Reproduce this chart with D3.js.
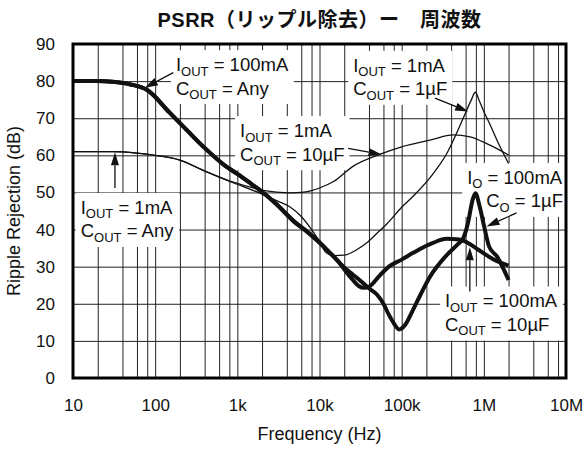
<!DOCTYPE html>
<html>
<head>
<meta charset="utf-8">
<script src="https://cdn.jsdelivr.net/npm/d3@7"></script>
<style>
  body { margin: 0; background: #fff; }
  svg { display: block; font-family: "Liberation Sans", Arial, Helvetica, sans-serif; }
</style>
</head>
<body>
<svg id="chart" width="587" height="450"></svg>
<script>
// 軸の目盛り
var xTicks = [10, 100, 1e3, 1e4, 1e5, 1e6, 1e7];
var xTickLabels = ["10", "100", "1k", "10k", "100k", "1M", "10M"];
var yTicks = [0, 10, 20, 30, 40, 50, 60, 70, 80, 90];

// IOUT = 100mA, COUT = 10uF (太線)
var f100mA10uF = [10, 20, 30, 50, 80, 150, 250, 400, 700, 1000, 1500, 2000, 3000, 5000, 7000, 10000, 13000, 16000,
  20000, 25000, 30000, 35000, 40000, 54000, 70000, 100000, 140000, 240000, 350000, 500000, 650000, 800000, 1000000, 1300000, 2000000];
var r100mA10uF = [80, 80, 79.8, 79.1, 77.6, 71.5, 66.5, 62, 57.3, 55, 52.2, 50.2, 46.8, 42, 39.5, 36.5, 34, 32,
  29.3, 26.6, 24.8, 24.3, 24.6, 27.6, 30, 31.9, 33.8, 36.4, 37.5, 37.3, 36.3, 35, 33.6, 32, 30.3];

// IO = 100mA, CO = 1uF (太線)
var f100mA1uF = [10, 20, 30, 50, 80, 150, 250, 400, 700, 1000, 1500, 2000, 3000, 5000, 7000, 10000, 13000, 16000,
  20000, 25000, 30000, 35000, 41000, 50000, 60000, 70000, 80000, 93000, 110000, 137000, 170000, 220000, 350000, 480000,
  560000, 640000, 730000, 790000, 890000, 1010000, 1160000, 1450000, 2000000];
var r100mA1uF = [80, 80, 79.8, 79.1, 77.6, 71.5, 66.5, 62, 57.3, 55, 52.2, 50.2, 46.8, 42, 39.5, 36.5, 34, 32,
  29.8, 28, 26.6, 25.3, 24, 22.5, 20, 17, 14.8, 13.1, 14.3, 18.3, 22.5, 27.2, 33, 36,
  37.6, 41.7, 48, 49.8, 46.2, 40.8, 35.4, 32.7, 26.4];

// IOUT = 1mA, COUT = 10uF (細線)
var f1mA10uF = [10, 30, 60, 100, 200, 380, 740, 1400, 2000, 3000, 4500, 6000, 8000, 10000, 15000, 25000, 55000,
  100000, 220000, 425000, 680000, 1170000, 2000000];
var r1mA10uF = [61, 61, 60.6, 60, 58.7, 56, 53.4, 51.5, 50.6, 50.1, 49.9, 50, 50.5, 51.2, 53, 56.9, 60.3,
  62.3, 64.1, 65.5, 65, 62.8, 60.1];

// IOUT = 1mA, COUT = 1uF (細線)
var f1mA1uF = [10, 30, 60, 100, 200, 380, 740, 1200, 1880, 3000, 4300, 6000, 7700, 10000, 12000, 15000, 20000, 28000,
  37000, 50000, 66000, 100000, 137000, 250000, 350000, 500000, 600000, 700000, 790000, 870000, 1000000, 1200000, 1450000, 2000000];
var r1mA1uF = [61, 61, 60.6, 60, 58.7, 56, 53.3, 51.5, 49.8, 47.8, 46.2, 43.5, 40.5, 36.8, 33.8, 33, 33.1, 34.5,
  36.3, 39, 41.5, 46, 48.9, 55.5, 60.3, 67.5, 71.5, 74.8, 77, 75, 71.8, 68.1, 64, 57.8];

// 注記 ({...} は下付き)
var noteText = [
  ["I{OUT} = 100mA", "C{OUT} = Any"],
  ["I{OUT} = 1mA", "C{OUT} = Any"],
  ["I{OUT} = 1mA", "C{OUT} = 1\u00b5F"],
  ["I{OUT} = 1mA", "C{OUT} = 10\u00b5F"],
  ["I{O} = 100mA", "C{O} = 1\u00b5F"],
  ["I{OUT} = 100mA", "C{OUT} = 10\u00b5F"]
];

var plotLeft = 73, plotRight = 566, plotTop = 44, plotBottom = 378;

var svg = d3.select("#chart");
var x = d3.scaleLog().domain([10, 1e7]).range([plotLeft, plotRight]);
var y = d3.scaleLinear().domain([0, 90]).range([plotBottom, plotTop]);

var gridG = svg.append("g");
var boxG = svg.append("g");
var curveG = svg.append("g");
var frameG = svg.append("g");
var textG = svg.append("g");
var arrowG = svg.append("g");

// グリッド (2,4,6,8 と 10 の倍数)
var gridF = [];
for (var d = 10; d < 1e7; d *= 10) {
  [2, 4, 6, 8, 10].forEach(function (m) { if (d * m < 1e7) gridF.push(d * m); });
}
gridG.append("g")
  .attr("transform", "translate(0," + plotBottom + ")")
  .call(d3.axisBottom(x).tickValues(gridF).tickSize(-(plotBottom - plotTop)).tickFormat(""))
  .call(function (g) { g.select(".domain").remove(); });
gridG.append("g")
  .attr("transform", "translate(" + plotLeft + ",0)")
  .call(d3.axisLeft(y).tickValues(yTicks.slice(1, -1)).tickSize(-(plotRight - plotLeft)).tickFormat(""))
  .call(function (g) { g.select(".domain").remove(); });
gridG.selectAll("line").attr("stroke", "#222").attr("stroke-width", 1);

// 軸ラベル
var xAxis = svg.append("g")
  .attr("transform", "translate(0," + plotBottom + ")")
  .call(d3.axisBottom(x).tickValues(xTicks).tickSize(0).tickPadding(21)
    .tickFormat(function (d, i) { return xTickLabels[i]; }));
var yAxis = svg.append("g")
  .attr("transform", "translate(" + plotLeft + ",0)")
  .call(d3.axisLeft(y).tickValues(yTicks).tickSize(0).tickPadding(18).tickFormat(d3.format("d")));
[xAxis, yAxis].forEach(function (a) {
  a.select(".domain").remove();
  a.selectAll("text").attr("font-size", 17).attr("fill", "#111")
    .attr("font-family", "'Liberation Sans', Arial, sans-serif");
});

svg.append("text")
  .attr("x", (plotLeft + plotRight) / 2).attr("y", 440)
  .attr("text-anchor", "middle").attr("font-size", 18).attr("fill", "#111")
  .text("Frequency (Hz)");
svg.append("text")
  .attr("transform", "translate(20," + (plotTop + plotBottom) / 2 + ") rotate(-90)")
  .attr("text-anchor", "middle").attr("font-size", 18).attr("fill", "#111")
  .text("Ripple Rejection (dB)");
svg.append("text")
  .attr("x", (plotLeft + plotRight) / 2).attr("y", 27)
  .attr("text-anchor", "middle").attr("font-size", 20).attr("font-weight", "bold")
  .attr("letter-spacing", 0.5).attr("fill", "#111")
  .attr("font-family", "'Liberation Sans', 'Noto Sans CJK JP', sans-serif")
  .text("PSRR（リップル除去）ー　周波数");

// 曲線
var line = d3.line()
  .x(function (d) { return x(d[0]); })
  .y(function (d) { return y(d[1]); })
  .curve(d3.curveMonotoneX);

var curves = [
  { f: f1mA10uF, r: r1mA10uF, w: 1.3 },
  { f: f1mA1uF, r: r1mA1uF, w: 1.3 },
  { f: f100mA10uF, r: r100mA10uF, w: 4 },
  { f: f100mA1uF, r: r100mA1uF, w: 4 }
];
curves.forEach(function (c) {
  curveG.append("path")
    .datum(d3.zip(c.f, c.r))
    .attr("d", line)
    .attr("fill", "none")
    .attr("stroke", "#111")
    .attr("stroke-width", c.w)
    .attr("stroke-linejoin", "round");
});

frameG.append("rect")
  .attr("x", plotLeft).attr("y", plotTop)
  .attr("width", plotRight - plotLeft).attr("height", plotBottom - plotTop)
  .attr("fill", "none").attr("stroke", "#000").attr("stroke-width", 3);

// 注記の配置 [周波数, dB]
var notes = [
  { at: [179, 82.7], dx2: 0, arrow: [[166, 82.3], [75, 78.2]] },
  { at: [12.4, 44.2], dx2: 0, arrow: [[32.4, 51.2], [32.4, 60.8]] },
  { at: [25700, 82.5], dx2: 0, arrow: [[254000, 75.4], [644000, 71.8]] },
  { at: [1080, 64.9], dx2: 0, arrow: [[22300, 61.9], [56900, 60.2]] },
  { at: [627000, 52.3], dx2: 19, arrow: [[2500000, 44.5], [1080000, 40.8]] },
  { at: [336000, 19.0], dx2: 0, arrow: [[676000, 23.3], [676000, 35.2]] }
];

function addLine(g, str, px, py) {
  var t = g.append("text").attr("x", px).attr("y", py)
    .attr("font-size", 18.5).attr("fill", "#111");
  var sub = false;
  str.split(/(\{[^}]*\})/).filter(function (s) { return s; }).forEach(function (s) {
    if (s[0] === "{") {
      t.append("tspan").attr("font-size", 13).attr("dy", 4.5).text(s.slice(1, -1));
      sub = true;
    } else {
      t.append("tspan").attr("dy", sub ? -4.5 : 0).text(s);
      sub = false;
    }
  });
}

notes.forEach(function (n, i) {
  var g = textG.append("g");
  var px = x(n.at[0]), py = y(n.at[1]);
  addLine(g, noteText[i][0], px, py);
  addLine(g, noteText[i][1], px + n.dx2, py + 23.5);
  var bb = g.node().getBBox();
  var bx0 = Math.max(plotLeft, bb.x - 5), bx1 = Math.min(plotRight, bb.x + bb.width + 5);
  boxG.append("rect")
    .attr("x", bx0).attr("y", bb.y - 4)
    .attr("width", bx1 - bx0).attr("height", bb.height + 6)
    .attr("fill", "#fff");

  var x0 = x(n.arrow[0][0]), y0 = y(n.arrow[0][1]);
  var x1 = x(n.arrow[1][0]), y1 = y(n.arrow[1][1]);
  var a = Math.atan2(y1 - y0, x1 - x0);
  var len = 13, hw = 4;
  var bxp = x1 - len * Math.cos(a), byp = y1 - len * Math.sin(a);
  arrowG.append("line")
    .attr("x1", x0).attr("y1", y0).attr("x2", bxp).attr("y2", byp)
    .attr("stroke", "#111").attr("stroke-width", 1.3);
  arrowG.append("path")
    .attr("d", "M" + x1 + "," + y1 +
      "L" + (bxp + hw * Math.sin(a)) + "," + (byp - hw * Math.cos(a)) +
      "L" + (bxp - hw * Math.sin(a)) + "," + (byp + hw * Math.cos(a)) + "Z")
    .attr("fill", "#111");
});
</script>
</body>
</html>
